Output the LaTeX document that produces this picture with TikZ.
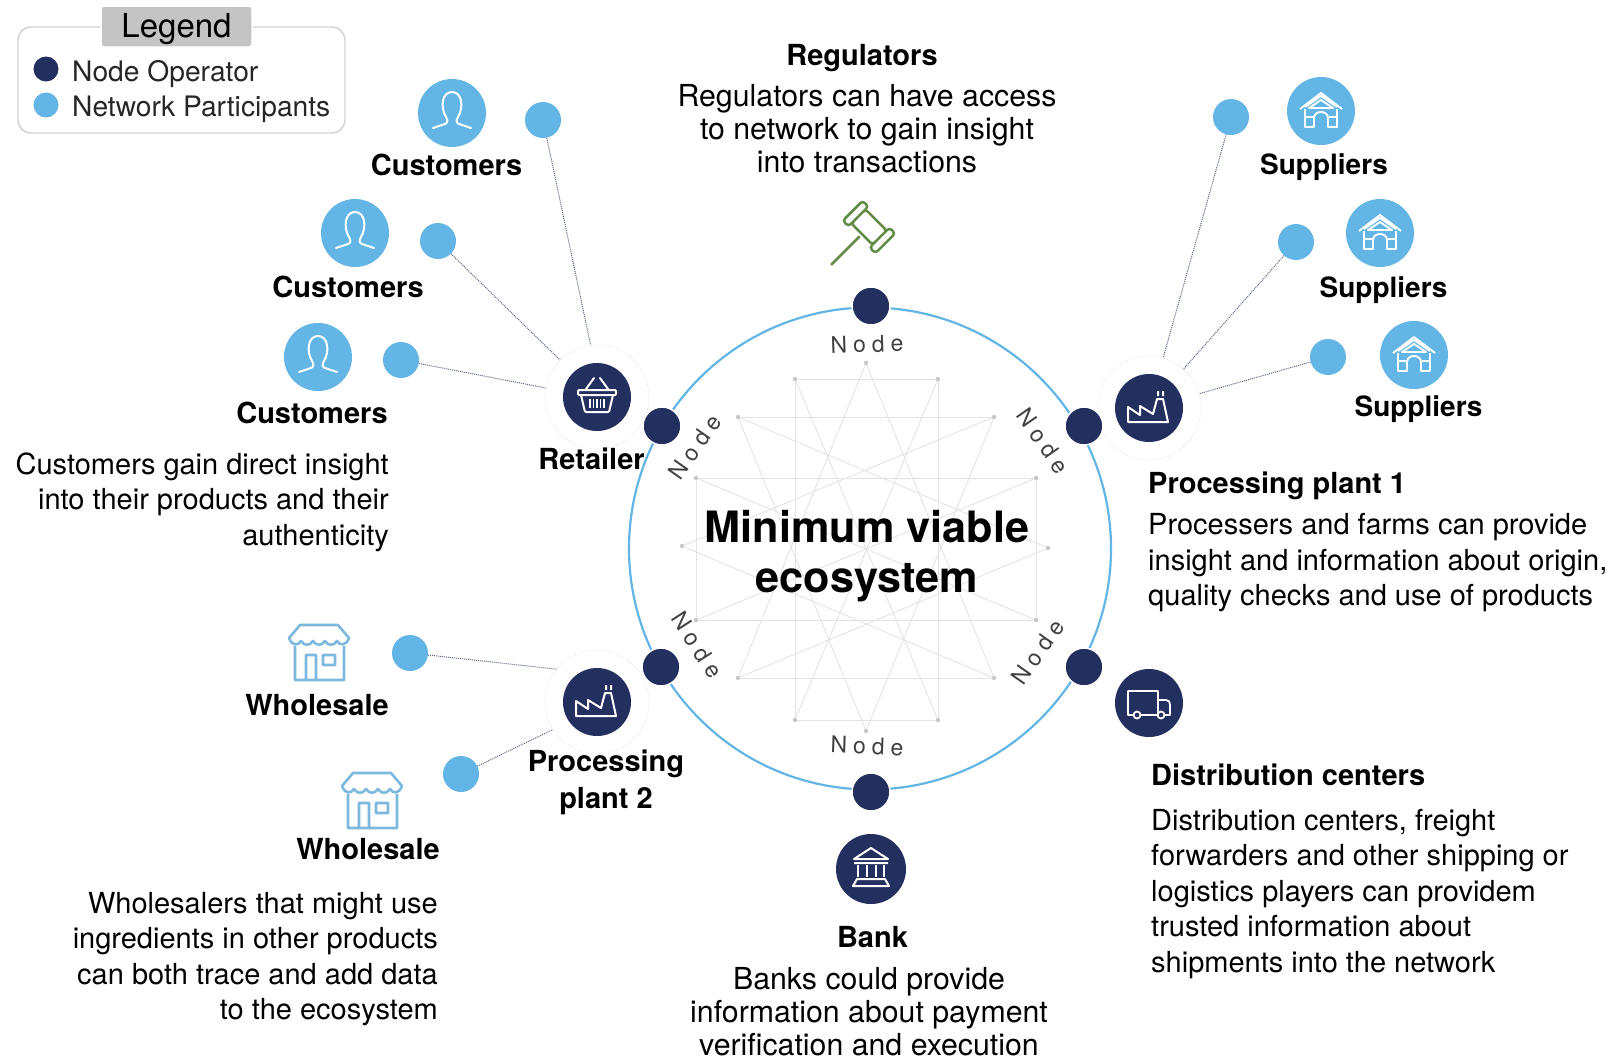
\documentclass[tikz,border=0pt]{standalone}
\usepackage{fontspec}
\setmainfont{TeX Gyre Heros}
\newfontfamily\tagfont[LetterSpace=26]{TeX Gyre Heros}
\usetikzlibrary{arrows}
\definecolor{navy}{RGB}{35,47,95}
\definecolor{sky}{RGB}{98,181,229}
\definecolor{storeblue}{RGB}{125,185,222}
\definecolor{gavel}{RGB}{98,140,70}
\tikzset{
opdot/.style={circle,fill=navy,draw=white,line width=1.5pt,minimum size=38pt,inner sep=0pt},
partdot/.style={circle,fill=sky,minimum size=36pt,inner sep=0pt},
navyicon/.style={circle,fill=navy,minimum size=68pt,inner sep=0pt},
skyicon/.style={circle,fill=sky,minimum size=68pt,inner sep=0pt},
ringnode/.style={circle,fill=white,draw=black!22,densely dotted,line width=0.4pt,minimum size=104pt,inner sep=0pt},
boldlabel/.style={font=\fontsize{29}{37}\selectfont\bfseries,align=center,inner sep=0pt},
suplabel/.style={font=\fontsize{28}{37}\selectfont\bfseries,align=center,inner sep=0pt},
bodytext/.style={font=\fontsize{29}{35.5}\selectfont,inner sep=0pt},
sparsetext/.style={font=\fontsize{30.3}{33}\selectfont,inner sep=0pt,align=center},
keytext/.style={font=\fontsize{28.2}{34}\selectfont,inner sep=0pt,anchor=west,text=black!85},
nodetag/.style={font=\fontsize{23}{23}\selectfont\tagfont,text=black!75,inner sep=0pt},
link/.style={navy!75,densely dotted,line width=1pt},
meshdot/.style={circle,fill=black!22,minimum size=4.5pt,inner sep=0pt},
meshline/.style={black!11,line width=0.9pt},
usericon/.pic={
\draw[white,line width=2pt,line cap=round,line join=round]
(-19,15)--(-7,11).. controls (-4,10) and (-4,7) .. (-6,4).. controls (-12,-6) and (-10,-21) .. (0,-21)
.. controls (10,-21) and (12,-6) .. (6,4).. controls (4,7) and (4,10) .. (7,11)--(19,15);
},
barnicon/.pic={
\draw[white,line width=1.9pt,line join=round]
(-21,-2)--(0,-18)--(21,-2) (-16,-4)--(0,-15)--(16,-4)
(-12,-3)--(0,-11)--(12,-3)--cycle
(-16,-2)--(-16,16)--(-7,16)--(-7,7).. controls (-7,-1) and (7,-1) .. (7,7)--(7,16)--(16,16)--(16,-2)
(-16,6)--(-8,6) (16,6)--(8,6);
},
factoryicon/.pic={
\draw[white,line width=2pt,line join=round]
(-21,14)--(-21,-1)--(-9,7)--(-9,-2)--(4,6)--(8,-9)--(14,-9)--(19,14)--cycle
(9,-17)--(9,-12) (14,-17)--(14,-12);
},
basketicon/.pic={
\draw[white,line width=2pt,line join=round,rounded corners=1pt]
(-19,-7) rectangle (19,-2)
(-16,-2)--(-12,15)--(12,15)--(16,-2);
\draw[white,line width=2pt,line cap=round]
(-11,-8)--(-3,-19) (11,-8)--(3,-19);
\foreach \xx in {-7,-3.5,0,3.5,7}{
\draw[white,line width=1.6pt](\xx,2)--(\xx,11);
}
},
truckicon/.pic={
\draw[white,line width=1.8pt,line join=round]
(-16,12)--(-21,12)--(-21,-12)--(9,-12)--(9,12)--(-8,12)
(9,-3)--(17,-3).. controls (20,-3) and (21,-1) .. (21,2)--(21,12)--(16,12) (9,12)--(8,12)
(-12,12) circle (3.5) (12,12) circle (3.5);
},
bankicon/.pic={
\draw[white,line width=2pt,line join=round]
(-17,-10)--(0,-21)--(17,-10)--cycle
(-17,-6)--(17,-6)
(-14,10)--(14,10)--(18,17)--(-18,17)--cycle;
\foreach \xx in {-13,-4.5,4.5,13}{
\draw[white,line width=2pt](\xx,-4)--(\xx,8);
}
},
storeicon/.pic={
\draw[storeblue,line width=2.6pt,line join=round]
(-19,-27)--(19,-27)--(30,-14).. controls (27,-6) and (21,-6) .. (18,-11).. controls (15,-6) and (9,-6) .. (6,-11)
.. controls (3,-6) and (-3,-6) .. (-6,-11).. controls (-9,-6) and (-15,-6) .. (-18,-11).. controls (-21,-6) and (-27,-6) .. (-30,-14)--cycle
(-24,-6)--(-24,28)--(25,28)--(25,-6)
(-13,28)--(-13,3)--(-3,3)--(-3,28)
(4,3) rectangle (16,13);
},
}
\begin{document}
\begin{tikzpicture}[x=1pt,y=-1pt]
\useasboundingbox (0,0) rectangle (1613,1055);
\draw[black!18,line width=1.4pt,rounded corners=13pt] (18,27) rectangle (345,133);
\draw
(176.5,26.5) node[fill=black!23,draw=white,line width=1.5pt,rounded corners=3pt,inner sep=0pt,minimum width=151pt,minimum height=41pt,text height=28pt,text depth=7pt,font=\fontsize{33}{33}\selectfont](legend){Legend}
(46,69) node[circle,fill=navy,minimum size=25pt,inner sep=0pt](keyop){}
(46,105) node[circle,fill=sky,minimum size=25pt,inner sep=0pt](keypart){}
(72,74) node[keytext](keyoptext){Node Operator}
(72,109) node[keytext](keyparttext){Network Participants}
;
\foreach \n/\x/\y in {1/866/363,2/938/379,3/994/417,4/1036/478,5/1048/548,6/1036/620,7/994/678,8/938/720,
9/866/731,10/795/720,11/738/678,12/696/620,13/682/546,14/696/478,15/738/417,16/795/379}{
\node[meshdot](m\n) at (\x,\y){};
}
\foreach \x/\y in {16/2,16/10,2/8,10/8,14/4,12/6,14/12,4/6,15/3,11/7,1/11,1/7,9/15,9/3,13/3,13/7,5/15,5/11,16/8,2/10,14/6,4/12}{
\draw[meshline](m\x)--(m\y);
}
\draw
(870,548.5) node[circle,draw=sky,line width=2.2pt,minimum size=482pt,inner sep=0pt](hub){}
(597,397) node[ringnode](ringret){}
(1149,408) node[ringnode](ringone){}
(597,702) node[ringnode](ringtwo){}
(871,306) node[opdot](optop){}
(662,426) node[opdot](opleft){}
(1084,426) node[opdot](opright){}
(661,667) node[opdot](oplower){}
(1084,667) node[opdot](opdist){}
(871,792) node[opdot](opbank){}
(867,344) node[nodetag,rotate=2](tagtop){Node}
(695,447) node[nodetag,rotate=55](tagleft){Node}
(1043,441) node[nodetag,rotate=-55](tagright){Node}
(697,645) node[nodetag,rotate=-57](taglower){Node}
(1038,652) node[nodetag,rotate=55](tagdist){Node}
(867,746) node[nodetag,rotate=-2](tagbank){Node}
(867,556) node[font=\fontsize{43.2}{50}\selectfont\bfseries,align=center,inner sep=0pt](title){Minimum viable\\ecosystem}
;
\draw
(597,397) node[navyicon](retailer){}
(1149,408) node[navyicon](plantone){}
(597,702) node[navyicon](planttwo){}
(1149,703) node[navyicon](truck){}
(871,869) node[navyicon,minimum size=70pt](bank){}
(452,113) node[skyicon](custa){}
(355,233) node[skyicon](custb){}
(318,357) node[skyicon](custc){}
(1321,111) node[skyicon](supa){}
(1380,233) node[skyicon](supb){}
(1414,355) node[skyicon](supc){}
(543,120) node[partdot](dota){}
(438,241) node[partdot](dotb){}
(401,360) node[partdot](dotc){}
(1231,117) node[partdot](dotd){}
(1296,242) node[partdot](dote){}
(1328,357) node[partdot](dotf){}
(410,653) node[partdot](dotg){}
(461,774) node[partdot](doth){}
;
\foreach \x/\y in {dota/ringret.97,dotb/ringret.135,dotc/ringret.170,dotd/ringone,dote/ringone,dotf/ringone,dotg/ringtwo.141,doth/ringtwo.212}{
\draw[link](\x)--(\y);
}
\foreach \x in {custa,custb,custc}{
\pic at (\x) {usericon};
}
\foreach \x in {supa,supb,supc}{
\pic at (\x) {barnicon};
}
\pic at (retailer) {basketicon};
\pic at (plantone) {factoryicon};
\pic at (planttwo) {factoryicon};
\pic at (truck) {truckicon};
\pic at (bank) {bankicon};
\pic at (319,652) {storeicon};
\pic at (372,800) {storeicon};
\begin{scope}[shift={(869,227)},rotate=-45]
\draw[gavel,line width=2.5pt,rounded corners=3pt]
(-15,-10) rectangle (15,10)
(-23,-14) rectangle (-15,14)
(15,-14) rectangle (23,14);
\draw[gavel,line width=2.8pt,line cap=round](0,14)--(0,53);
\end{scope}
\draw
(862,58.5) node[boldlabel](regulators){Regulators}
(867,129) node[sparsetext](regtext){Regulators can have access\\to network to gain insight\\into transactions}
(446.5,164.5) node[boldlabel](custlaba){Customers}
(348,287) node[boldlabel](custlabb){Customers}
(312,412.5) node[boldlabel](custlabc){Customers}
(389,502) node[bodytext,align=right,anchor=east](custtext){Customers gain direct insight\\into their products and their\\authenticity}
(591.5,459) node[boldlabel](retlabel){Retailer}
(1324,167) node[suplabel](suplaba){Suppliers}
(1383.5,290) node[suplabel](suplabb){Suppliers}
(1418.5,409) node[suplabel](suplabc){Suppliers}
(1148,486) node[boldlabel,anchor=west](onelabel){Processing plant 1}
(1148,563) node[bodytext,align=left,anchor=west](onetext){Processers and farms can provide\\insight and information about origin,\\quality checks and use of products}
(317,705) node[boldlabel](wholea){Wholesale}
(368,849) node[boldlabel](wholeb){Wholesale}
(606,782) node[boldlabel](twolabel){Processing\\plant 2}
(438,959) node[bodytext,align=right,anchor=east](wholetext){Wholesalers that might use\\ingredients in other products\\can both trace and add data\\to the ecosystem}
(1151,774.5) node[boldlabel,anchor=west](distlabel){Distribution centers}
(1151,894) node[bodytext,align=left,anchor=west](disttext){Distribution centers, freight\\forwarders and other shipping or\\logistics players can providem\\trusted information about\\shipments into the network}
(872.5,937) node[boldlabel](banklabel){Bank}
(869,1012) node[sparsetext](banktext){Banks could provide\\information about payment\\verification and execution}
;
\end{tikzpicture}
\end{document}
